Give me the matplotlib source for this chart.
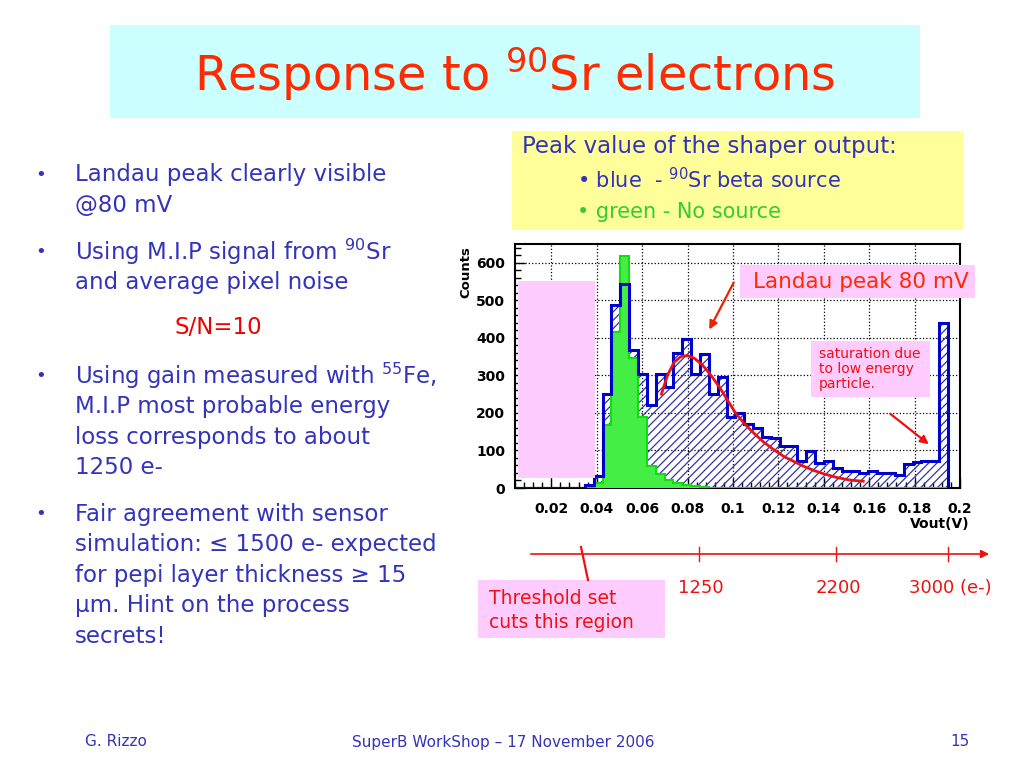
import numpy as np
import matplotlib
matplotlib.use("Agg")
import matplotlib.pyplot as plt
from matplotlib.patches import Rectangle
from matplotlib.ticker import MultipleLocator, FixedLocator, FixedFormatter

plt.rcParams['font.family'] = ['DejaVu Sans']
plt.rcParams['mathtext.fontset'] = 'dejavusans'
plt.rcParams['hatch.linewidth'] = 0.9

# histogram binning (Vout in V), 49 bins of ~3.9 mV
edges = 0.0036 + 0.0039 * np.arange(50)

# blue: 90Sr beta source
sr_counts = [0, 0, 0, 0, 0, 0, 0, 0,
             8, 32, 250, 487, 543, 368, 303, 222, 303, 270, 359, 396,
             303, 356, 250, 297, 188, 200, 170, 161, 135, 133, 113, 111,
             71, 99, 66, 71, 53, 44, 44, 39, 44, 39, 39, 35, 64, 69, 71, 71, 440]

# green: no source
nosrc_counts = [0, 0, 0, 0, 0, 0, 0, 0,
                0, 13, 168, 415, 618, 347, 190, 59, 37, 20, 13, 7,
                4, 2, 1, 0, 0, 0, 0, 0, 0, 0, 0, 0,
                0, 0, 0, 0, 0, 0, 0, 0, 0, 0, 0, 0, 0, 0, 0, 0, 0]

# Landau fit
fit_x = [0.0685, 0.0712, 0.0741, 0.0770, 0.0797, 0.0829, 0.0865, 0.0902, 0.0939,
         0.0975, 0.1011, 0.1048, 0.1092, 0.1136, 0.1180, 0.1224, 0.1267, 0.1311,
         0.1355, 0.1399, 0.1457, 0.1516, 0.1574]
fit_y = [250, 301, 335, 350, 353, 346, 328, 301, 270, 235, 200, 173, 146, 122,
         102, 84, 71, 58, 47, 38, 28, 21, 18]

xtick_vals = [0.02, 0.04, 0.06, 0.08, 0.1, 0.12, 0.14, 0.16, 0.18, 0.2]
xtick_labels = ['0.02', '0.04', '0.06', '0.08', '0.1', '0.12', '0.14', '0.16', '0.18', '0.2']
ytick_vals = [0, 100, 200, 300, 400, 500, 600]

# electron scale under the plot: (pixel x, label)
e_ticks = [(699, '1250'), (836, '2200'), (948, '3000 (e-)')]

BLUE_TXT = '#3333bb'
RED = '#ff2a00'

fig = plt.figure(figsize=(10.24, 7.68), dpi=100)

# background layer in pixel coords
bg = fig.add_axes([0, 0, 1, 1], zorder=0)
bg.set_xlim(0, 1024)
bg.set_ylim(768, 0)
bg.axis('off')

bg.add_patch(Rectangle((110, 25), 810, 93, color='#ccffff', lw=0))
bg.text(515, 74, r'Response to $^{90}$Sr electrons', color=RED, fontsize=34.5,
        ha='center', va='center')

bg.add_patch(Rectangle((512, 131), 451, 99, color='#ffff99', lw=0))
bg.text(522, 146, 'Peak value of the shaper output:', color=BLUE_TXT, fontsize=16.5,
        ha='left', va='center')
bg.text(577, 180, r'• blue  - $^{90}$Sr beta source', color=BLUE_TXT, fontsize=15,
        ha='left', va='center')
bg.text(577, 212, '• green - No source', color='#33cc33', fontsize=15,
        ha='left', va='center')

bullets = [
    (175, ['Landau peak clearly visible', '@80 mV']),
    (252, [r'Using M.I.P signal from $^{90}$Sr', 'and average pixel noise']),
    (376, [r'Using gain measured with $^{55}$Fe,', 'M.I.P most probable energy',
           'loss corresponds to about', '1250 e-']),
    (514, ['Fair agreement with sensor', 'simulation: ≤ 1500 e- expected',
           'for pepi layer thickness ≥ 15', 'μm. Hint on the process', 'secrets!']),
]
for y0, lines in bullets:
    bg.text(35, y0, '•', color=BLUE_TXT, fontsize=13, ha='left', va='center')
    for k, line in enumerate(lines):
        bg.text(75, y0 + k * 30.6, line, color=BLUE_TXT, fontsize=16.5,
                ha='left', va='center')
bg.text(218, 328, 'S/N=10', color='#ee0000', fontsize=16.5, ha='center', va='center')

bg.text(85, 742, 'G. Rizzo', color=BLUE_TXT, fontsize=11, ha='left', va='center')
bg.text(503, 742, 'SuperB WorkShop – 17 November 2006', color=BLUE_TXT, fontsize=11,
        ha='center', va='center')
bg.text(970, 742, '15', color=BLUE_TXT, fontsize=11, ha='right', va='center')

# histogram
ax = fig.add_axes([515 / 1024, 1 - 488 / 768, 445 / 1024, 244 / 768], zorder=2)
ax.stairs(sr_counts, edges, fill=True, facecolor='none', edgecolor='#3333aa',
          hatch='////', linewidth=0, zorder=2)
ax.stairs(nosrc_counts, edges, fill=True, facecolor='#44ee44', edgecolor='#11dd11',
          linewidth=1.5, zorder=3)
ax.stairs(sr_counts, edges, color='#0000cc', linewidth=2.2, zorder=4)
ax.plot(fit_x, fit_y, color='#ee1111', linewidth=2, zorder=5)

ax.set_xlim(0.004, 0.2)
ax.set_ylim(0, 650)
ax.xaxis.set_major_locator(FixedLocator(xtick_vals))
ax.xaxis.set_major_formatter(FixedFormatter(xtick_labels))
ax.xaxis.set_minor_locator(MultipleLocator(0.004))
ax.yaxis.set_major_locator(FixedLocator(ytick_vals))
ax.yaxis.set_minor_locator(MultipleLocator(20))
ax.tick_params(which='both', direction='in', top=False, right=False, width=1)
ax.tick_params(which='major', length=7)
ax.tick_params(which='minor', length=4)
ax.tick_params(axis='x', pad=10)
ax.tick_params(axis='y', pad=7)
for lab in ax.get_xticklabels() + ax.get_yticklabels():
    lab.set_fontweight('bold')
    lab.set_fontsize(10)
ax.grid(True, which='major', linestyle=':', color='black', linewidth=0.9)
ax.set_axisbelow(True)
for s in ax.spines.values():
    s.set_linewidth(1.5)

# overlay layer
ov = fig.add_axes([0, 0, 1, 1], zorder=6)
ov.set_xlim(0, 1024)
ov.set_ylim(768, 0)
ov.axis('off')
ov.patch.set_alpha(0)

ov.text(466, 272, 'Counts', rotation=90, fontsize=9.5, fontweight='bold',
        ha='center', va='center')
ov.text(970, 524, 'Vout(V)', fontsize=10, fontweight='bold', ha='right', va='center')

ov.add_patch(Rectangle((518, 281), 77, 197, color='#ffccff', lw=0))
ov.add_patch(Rectangle((740, 265), 235, 33, color='#ffccff', lw=0))
ov.text(861, 282, 'Landau peak 80 mV', color=RED, fontsize=15.5, ha='center', va='center')
ov.add_patch(Rectangle((811, 341), 119, 56, color='#ffccff', lw=0))
ov.text(819, 369, 'saturation due\nto low energy\nparticle.', color='#ee1111',
        fontsize=10, ha='left', va='center', linespacing=1.05)

ov.annotate('', xy=(708, 332), xytext=(735, 280),
            arrowprops=dict(arrowstyle='-|>', color='#ee2200', lw=1.6, mutation_scale=12))
ov.annotate('', xy=(931, 446), xytext=(888, 412),
            arrowprops=dict(arrowstyle='-|>', color='#ee1111', lw=1.6, mutation_scale=12))

# electron scale
ov.annotate('', xy=(992, 554), xytext=(528, 554),
            arrowprops=dict(arrowstyle='-|>', color='#ee1111', lw=1.2, mutation_scale=12))
for px, lab in e_ticks:
    ov.plot([px, px], [547, 561], color='#ee1111', lw=1)
    ov.text(px + 2, 588, lab, color='#ee1111', fontsize=13, ha='center', va='center')
ov.plot([581, 588], [547, 580], color='#ee1111', lw=1.6)
ov.add_patch(Rectangle((478, 580), 187, 58, color='#ffccff', lw=0))
ov.text(489, 598, 'Threshold set', color='#ee1111', fontsize=13.5, ha='left', va='center')
ov.text(489, 622, 'cuts this region', color='#ee1111', fontsize=13.5, ha='left', va='center')

fig.savefig('out.png', dpi=100)
